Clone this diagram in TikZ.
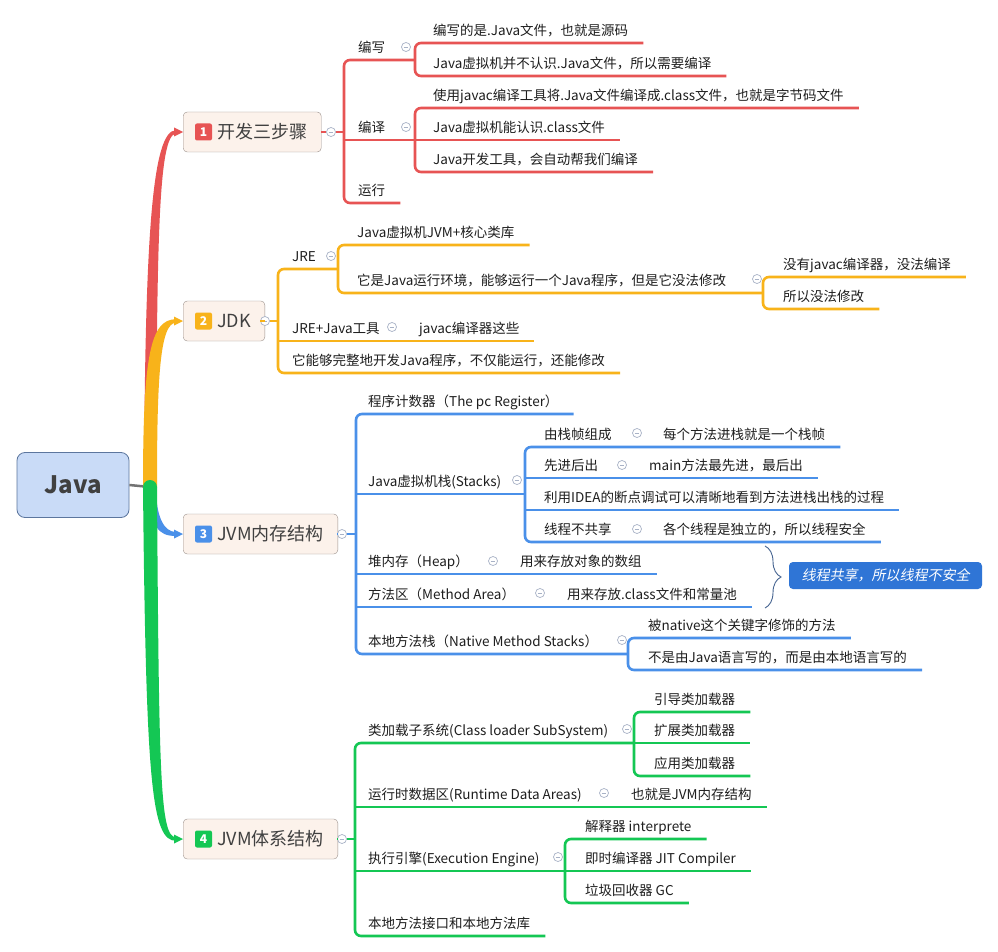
\documentclass[tikz,border=0pt]{standalone}
\usepackage{fontspec}
\setmainfont{Noto Sans CJK SC}
\newfontfamily\slantfont[FakeSlant=0.2]{Noto Sans CJK SC}
\usetikzlibrary{calc,decorations.pathreplacing}
\definecolor{cred}{RGB}{231,84,84}
\definecolor{corange}{RGB}{248,179,26}
\definecolor{cblue}{RGB}{74,144,233}
\definecolor{cgreen}{RGB}{20,199,84}
\definecolor{topicfill}{RGB}{252,242,235}
\definecolor{topicborder}{RGB}{155,145,140}
\definecolor{rootfill}{RGB}{201,219,247}
\definecolor{rootborder}{RGB}{92,118,158}
\definecolor{foldgray}{RGB}{168,178,198}
\definecolor{leaftext}{RGB}{30,30,30}
\definecolor{calloutfill}{RGB}{47,117,214}
\definecolor{bracecolor}{RGB}{70,100,145}

\begin{document}
\begin{tikzpicture}[x=1pt,y=-1pt,
    leaf/.style={anchor=south west, inner xsep=0, inner ysep=4.5, text height=10, text depth=3, text=leaftext, font=\fontsize{13.5}{15}\selectfont},
    topic/.style={draw=topicborder, fill=topicfill, rounded corners=4, minimum height=40, inner xsep=14, anchor=west, text=black!75, font=\fontsize{18}{20}\selectfont},
    badge/.style={rounded corners=2, minimum size=17, inner sep=0, text=white, font=\bfseries\fontsize{12}{12}\selectfont},
    rootbox/.style={draw=rootborder, fill=rootfill, rounded corners=8, minimum width=112, minimum height=65, line width=0.8pt, text=black!75, font=\bfseries\fontsize{24}{26}\selectfont},
    fold/.style={circle, draw=foldgray, line width=0.7pt, fill=white, minimum size=9, inner sep=0,
      path picture={\draw[foldgray, line width=0.7pt] ([xshift=2.2pt]path picture bounding box.west) -- ([xshift=-2.2pt]path picture bounding box.east);}},
    callout/.style={fill=calloutfill, rounded corners=4, minimum width=193, minimum height=27, text=white, font=\slantfont\fontsize{14}{16}\selectfont},
    redline/.style={draw=cred, line width=2.6pt, rounded corners=6},
    orangeline/.style={draw=corange, line width=2.6pt, rounded corners=6},
    blueline/.style={draw=cblue, line width=2.6pt, rounded corners=6},
    greenline/.style={draw=cgreen, line width=2.6pt, rounded corners=6}]

    \fill[white] (0,0) rectangle (998,952);
    \useasboundingbox (0,0) rectangle (998,952);

    \node[rootbox] (root) at (73,485) {Java};
    \coordinate (hub) at (150,487);

    \node[topic] (t1) at (183,132) {\hspace{20pt}开发三步骤};
    \node[badge, fill=cred] (b1) at ($(t1.west)+(20.5,0)$) {1};
    \node[topic] (t2) at (183,321) {\hspace{20pt}JDK};
    \node[badge, fill=corange] (b2) at ($(t2.west)+(20.5,0)$) {2};
    \node[topic] (t3) at (183,534) {\hspace{20pt}JVM内存结构};
    \node[badge, fill=cblue] (b3) at ($(t3.west)+(20.5,0)$) {3};
    \node[topic] (t4) at (183,839) {\hspace{20pt}JVM体系结构};
    \node[badge, fill=cgreen] (b4) at ($(t4.west)+(20.5,0)$) {4};

    \draw[black!55, line width=2.5pt] (root.east) -- (hub);
    \fill[cred] ($(hub)+(-6,0)$) .. controls +(1,-250) and +(-24,0) .. ($(t1.west)+(-7,-1.8)$) -- ($(t1.west)+(-7,1.8)$) .. controls +(-18,0) and +(1,-240) .. ($(hub)+(6,0)$) -- cycle;
    \fill[cred] (t1.west) -- +(-9,-4.5) -- +(-9,4.5) -- cycle;
    \fill[corange] ($(hub)+(-7,0)$) .. controls +(0,-130) and +(-26,0) .. ($(t2.west)+(-7,-1.8)$) -- ($(t2.west)+(-7,1.8)$) .. controls +(-16,0) and +(0,-110) .. ($(hub)+(7,0)$) -- cycle;
    \fill[corange] (t2.west) -- +(-9,-4.5) -- +(-9,4.5) -- cycle;
    \fill[cblue] (hub) .. controls +(0,40) and +(-18,0) .. ($(t3.west)+(-7,2)$) -- ($(t3.west)+(-7,-2)$) .. controls +(-12,0) and +(0,30) .. ($(hub)+(6,0)$) -- cycle;
    \fill[cblue] (t3.west) -- +(-9,-4.5) -- +(-9,4.5) -- cycle;
    \fill[cgreen] ($(hub)+(-7,0)$) .. controls +(3,300) and +(-24,0) .. ($(t4.west)+(-7,1.8)$) -- ($(t4.west)+(-7,-1.8)$) .. controls +(-16,0) and +(2,290) .. ($(hub)+(7,0)$) -- cycle;
    \fill[cgreen] (hub) circle (7);
    \fill[cgreen] (t4.west) -- +(-9,-4.5) -- +(-9,4.5) -- cycle;

    \coordinate (s1) at (344,0);
    \coordinate (g1) at (415,0);
    \node[fold] (f1) at (331,132) {};
    \node[leaf] (a1) at (358,60) {编写};
    \node[fold] (fa1) at (406,47) {};
    \node[leaf] (a11) at (433,43) {编写的是.Java文件，也就是源码};
    \node[leaf] (a12) at (433,76) {Java虚拟机并不认识.Java文件，所以需要编译};
    \node[leaf] (a2) at (358,140) {编译};
    \node[fold] (fa2) at (406,127) {};
    \node[leaf] (a21) at (433,108) {使用javac编译工具将.Java文件编译成.class文件，也就是字节码文件};
    \node[leaf] (a22) at (433,140) {Java虚拟机能认识.class文件};
    \node[leaf] (a23) at (433,172) {Java开发工具，会自动帮我们编译};
    \node[leaf] (a3) at (358,203) {运行};
    \draw[redline] (t1.east) -- (f1.west);
    \draw[redline] (f1.east) -- (s1 |- f1.east);
    \draw[redline] (g1 |- a1.south) -- (s1 |- a1.south) -- (s1 |- a3.south) -- ($(a3.south east)+(15,0)$);
    \draw[redline] (s1 |- a2.south) -- (g1 |- a2.south);
    \draw[redline] ($(a11.south east)+(15,0)$) -- (g1 |- a11.south) -- (g1 |- a12.south) -- ($(a12.south east)+(15,0)$);
    \draw[redline] ($(a21.south east)+(15,0)$) -- (g1 |- a21.south) -- (g1 |- a23.south) -- ($(a23.south east)+(15,0)$);
    \draw[redline] (g1 |- a22.south) -- ($(a22.south east)+(15,0)$);

    \coordinate (s2) at (278,0);
    \coordinate (g2a) at (338,0);
    \coordinate (g2b) at (763,0);
    \node[fold] (f2) at (265,321) {};
    \node[leaf] (c1) at (292,269) {JRE};
    \node[fold] (fc1) at (331,256) {};
    \node[leaf] (c11) at (357,245) {Java虚拟机JVM+核心类库};
    \node[leaf] (c12) at (357,293) {它是Java运行环境，能够运行一个Java程序，但是它没法修改};
    \node[fold] (fc12) at (757,279) {};
    \node[leaf] (c121) at (783,277) {没有javac编译器，没法编译};
    \node[leaf] (c122) at (783,309) {所以没法修改};
    \node[leaf] (c2) at (292,341) {JRE+Java工具};
    \node[fold] (fc2) at (392,327) {};
    \node[leaf] (c21) at (419,341) {javac编译器这些};
    \node[leaf] (c3) at (292,373) {它能够完整地开发Java程序，不仅能运行，还能修改};
    \draw[orangeline] (t2.east) -- (f2.west);
    \draw[orangeline] (f2.east) -- (s2 |- f2.east);
    \draw[orangeline] (g2a |- c1.south) -- (s2 |- c1.south) -- (s2 |- c3.south) -- ($(c3.south east)+(15,0)$);
    \draw[orangeline] (s2 |- c2.south) -- ($(c21.south east)+(15,0)$);
    \draw[orangeline] ($(c11.south east)+(15,0)$) -- (g2a |- c11.south) -- (g2a |- c12.south) -- (g2b |- c12.south);
    \draw[orangeline] ($(c121.south east)+(15,0)$) -- (g2b |- c121.south) -- (g2b |- c122.south) -- ($(c122.south east)+(15,0)$);

    \coordinate (s3) at (356,0);
    \coordinate (g3a) at (525,0);
    \coordinate (g3b) at (628,0);
    \node[fold] (f3) at (342,534) {};
    \node[leaf] (d1) at (368,414) {程序计数器（The pc Register）};
    \node[leaf] (d2) at (368,494) {Java虚拟机栈(Stacks)};
    \node[fold] (fd2) at (517,480) {};
    \node[leaf] (d21) at (544,447) {由栈帧组成};
    \node[fold] (fd21) at (637,433) {};
    \node[leaf] (d21b) at (663,447) {每个方法进栈就是一个栈帧};
    \node[leaf] (d22) at (544,478) {先进后出};
    \node[fold] (fd22) at (622,465) {};
    \node[leaf] (d22b) at (649,478) {main方法最先进，最后出};
    \node[leaf] (d23) at (544,510) {利用IDEA的断点调试可以清晰地看到方法进栈出栈的过程};
    \node[leaf] (d24) at (544,542) {线程不共享};
    \node[fold] (fd24) at (637,529) {};
    \node[leaf] (d24b) at (663,542) {各个线程是独立的，所以线程安全};
    \node[leaf] (d3) at (368,574) {堆内存（Heap）};
    \node[fold] (fd3) at (493,561) {};
    \node[leaf] (d3b) at (520,574) {用来存放对象的数组};
    \node[leaf] (d4) at (368,607) {方法区（Method Area）};
    \node[fold] (fd4) at (540,593) {};
    \node[leaf] (d4b) at (567,607) {用来存放.class文件和常量池};
    \node[leaf] (d5) at (368,654) {本地方法栈（Native Method Stacks）};
    \node[fold] (fd5) at (622,640) {};
    \node[leaf] (d51) at (648,638) {被native这个关键字修饰的方法};
    \node[leaf] (d52) at (648,670) {不是由Java语言写的，而是由本地语言写的};
    \draw[blueline] (t3.east) -- (f3.west);
    \draw[blueline] (f3.east) -- (s3 |- f3.east);
    \draw[blueline] ($(d1.south east)+(15,0)$) -- (s3 |- d1.south) -- (s3 |- d5.south) -- (g3b |- d5.south);
    \draw[blueline] (s3 |- d2.south) -- (g3a |- d2.south);
    \draw[blueline] (s3 |- d3.south) -- ($(d3b.south east)+(15,0)$);
    \draw[blueline] (s3 |- d4.south) -- ($(d4b.south east)+(15,0)$);
    \draw[blueline] ($(d21b.south east)+(15,0)$) -- (g3a |- d21.south) -- (g3a |- d24.south) -- ($(d24b.south east)+(15,0)$);
    \draw[blueline] (g3a |- d22.south) -- ($(d22b.south east)+(15,0)$);
    \draw[blueline] (g3a |- d23.south) -- ($(d23.south east)+(15,0)$);
    \draw[blueline] ($(d51.south east)+(15,0)$) -- (g3b |- d51.south) -- (g3b |- d52.south) -- ($(d52.south east)+(15,0)$);
    \coordinate (bracetop) at (765,546);
    \coordinate (bracebot) at (765,608);
    \draw[bracecolor, line width=0.9pt, decorate, decoration={brace, amplitude=16}] (bracetop) -- (bracebot);
    \node[callout] (share) at (885.5,575.5) {线程共享，所以线程不安全};

    \coordinate (s4) at (355,0);
    \coordinate (g4a) at (634,0);
    \coordinate (g4b) at (565,0);
    \node[fold] (f4) at (342,839) {};
    \node[leaf] (e1) at (368,743) {类加载子系统(Class loader SubSystem)};
    \node[fold] (fe1) at (627,729) {};
    \node[leaf] (e11) at (654,712) {引导类加载器};
    \node[leaf] (e12) at (654,743) {扩展类加载器};
    \node[leaf] (e13) at (654,776) {应用类加载器};
    \node[leaf] (e2) at (368,807) {运行时数据区(Runtime Data Areas)};
    \node[fold] (fe2) at (604,793) {};
    \node[leaf] (e2b) at (631,807) {也就是JVM内存结构};
    \node[leaf] (e3) at (368,871) {执行引擎(Execution Engine)};
    \node[fold] (fe3) at (558,857) {};
    \node[leaf] (e31) at (585,839) {解释器 interprete};
    \node[leaf] (e32) at (585,871) {即时编译器 JIT Compiler};
    \node[leaf] (e33) at (585,903) {垃圾回收器 GC};
    \node[leaf] (e4) at (368,936) {本地方法接口和本地方法库};
    \draw[greenline] (t4.east) -- (f4.west);
    \draw[greenline] (f4.east) -- (s4 |- f4.east);
    \draw[greenline] (g4a |- e1.south) -- (s4 |- e1.south) -- (s4 |- e4.south) -- ($(e4.south east)+(15,0)$);
    \draw[greenline] (s4 |- e2.south) -- ($(e2b.south east)+(15,0)$);
    \draw[greenline] (s4 |- e3.south) -- (g4b |- e3.south);
    \draw[greenline] ($(e11.south east)+(15,0)$) -- (g4a |- e11.south) -- (g4a |- e13.south) -- ($(e13.south east)+(15,0)$);
    \draw[greenline] (g4a |- e12.south) -- ($(e12.south east)+(15,0)$);
    \draw[greenline] ($(e31.south east)+(15,0)$) -- (g4b |- e31.south) -- (g4b |- e33.south) -- ($(e33.south east)+(15,0)$);
    \draw[greenline] (g4b |- e32.south) -- ($(e32.south east)+(15,0)$);
\end{tikzpicture}
\end{document}
